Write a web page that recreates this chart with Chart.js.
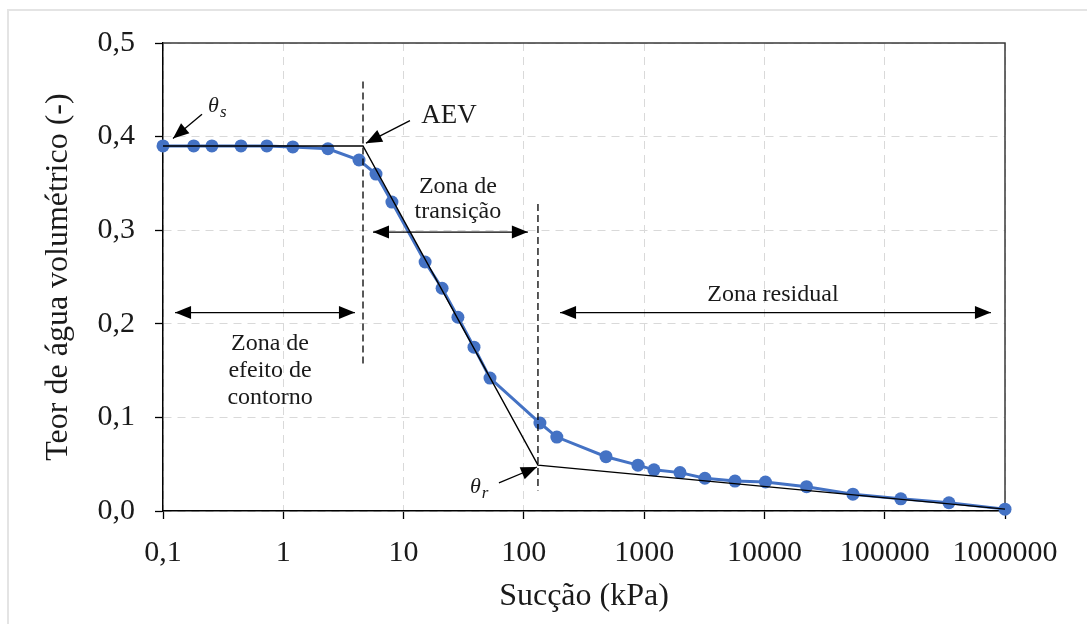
<!DOCTYPE html>
<html>
<head>
<meta charset="utf-8">
<script src="https://cdn.jsdelivr.net/npm/chart.js@4.4.0/dist/chart.umd.min.js"></script>
<style>
  html, body { margin: 0; padding: 0; background: #fff; }
  .frame {
    position: absolute; left: 7px; top: 9px; right: 0; bottom: 0;
    border-top: 2px solid #e4e4e4; border-left: 2px solid #e4e4e4;
  }
  canvas { position: absolute; left: 0; top: 0; }
</style>
</head>
<body>
<div class="frame"></div>
<canvas id="myChart" width="1087" height="624"></canvas>
<script>
// dados medidos (sucção em kPa, teor de água volumétrico)
const suction = [0.1, 0.18, 0.255, 0.445, 0.73, 1.2, 2.35, 4.26, 5.9, 8.0, 15.1, 20.9, 28.3, 38.5, 52.3,
  136, 188, 482, 888, 1207, 1986, 3200, 5690, 10200, 22400, 54400, 136000, 342000, 1000000];
const theta = [0.39, 0.39, 0.39, 0.39, 0.39, 0.389, 0.387, 0.375, 0.36, 0.33, 0.266, 0.238, 0.207, 0.175, 0.142,
  0.094, 0.079, 0.058, 0.049, 0.044, 0.041, 0.035, 0.032, 0.031, 0.026, 0.018, 0.013, 0.0088, 0.002];

// construção gráfica (retas)
const fitSuction = [0.1, 4.6, 131, 1000000];
const fitTheta = [0.39, 0.39, 0.049, 0.002];

// linhas tracejadas verticais (AEV e theta_r)
const aevX = [4.6, 4.6];
const aevY = [0.459, 0.154];
const resX = [131, 131];
const resY = [0.328, 0.022];

// eixos
const xTicks = [0.1, 1, 10, 100, 1000, 10000, 100000, 1000000];
const yTicks = [0, 0.1, 0.2, 0.3, 0.4, 0.5];

// setas: [x1, y1, x2, y2, duas pontas?]
const arrows = [
  [0.126, 0.212, 3.94, 0.212, true],
  [5.57, 0.298, 108, 0.298, true],
  [200, 0.212, 764000, 0.212, true],
  [0.211, 0.424, 0.121, 0.398, false],
  [11.3, 0.417, 4.87, 0.393, false],
  [62.1, 0.030, 128.5, 0.047, false],
];

// textos: [texto, x, y(base), tamanho]
const notes = [
  ["AEV", 23.9, 0.4145, 27],
  ["Zona de", 28.3, 0.3397, 24],
  ["transição", 28.3, 0.313, 24],
  ["Zona de", 0.776, 0.172, 24],
  ["efeito de", 0.776, 0.143, 24],
  ["contorno", 0.776, 0.1143, 24],
  ["Zona residual", 11770, 0.2244, 24],
];
// θ com subscrito: [sub, x(esq), y(base)]
const thetas = [
  ["s", 0.237, 0.426],
  ["r", 35.6, 0.019],
];

const SERIF = "'Liberation Serif', 'Times New Roman', serif";
const BLUE = "#4472C4";
const INK = "#1a1a1a";

const toXY = (xs, ys) => xs.map((v, i) => ({ x: v, y: ys[i] }));

const drawArrowHead = (ctx, fx, fy, tx, ty) => {
  const ang = Math.atan2(ty - fy, tx - fx);
  const L = 16, W = 6.5;
  const bx = tx - L * Math.cos(ang), by = ty - L * Math.sin(ang);
  ctx.beginPath();
  ctx.moveTo(tx, ty);
  ctx.lineTo(bx + W * Math.sin(ang), by - W * Math.cos(ang));
  ctx.lineTo(bx - W * Math.sin(ang), by + W * Math.cos(ang));
  ctx.closePath();
  ctx.fill();
};

const extras = {
  id: "extras",
  beforeDatasetsDraw(chart) {
    const { ctx, chartArea: a } = chart;
    ctx.save();
    ctx.strokeStyle = "#3a3a3a";
    ctx.lineWidth = 1.5;
    ctx.beginPath();
    ctx.moveTo(a.left, a.top);
    ctx.lineTo(a.right, a.top);
    ctx.lineTo(a.right, a.bottom);
    ctx.stroke();
    ctx.restore();
  },
  afterDatasetsDraw(chart) {
    const { ctx, scales: { x, y } } = chart;
    ctx.save();
    ctx.strokeStyle = "#000";
    ctx.fillStyle = "#000";
    ctx.lineWidth = 1.3;
    arrows.forEach(([x1, y1, x2, y2, both]) => {
      const px1 = x.getPixelForValue(x1), py1 = y.getPixelForValue(y1);
      const px2 = x.getPixelForValue(x2), py2 = y.getPixelForValue(y2);
      ctx.beginPath();
      ctx.moveTo(px1, py1);
      ctx.lineTo(px2, py2);
      ctx.stroke();
      drawArrowHead(ctx, px1, py1, px2, py2);
      if (both) drawArrowHead(ctx, px2, py2, px1, py1);
    });

    ctx.fillStyle = INK;
    ctx.textAlign = "center";
    ctx.textBaseline = "alphabetic";
    notes.forEach(([t, vx, vy, size]) => {
      ctx.font = size + "px " + SERIF;
      ctx.fillText(t, x.getPixelForValue(vx), y.getPixelForValue(vy));
    });

    ctx.textAlign = "left";
    thetas.forEach(([sub, vx, vy]) => {
      const px = x.getPixelForValue(vx), py = y.getPixelForValue(vy);
      ctx.font = "italic 22px " + SERIF;
      ctx.fillText("θ", px, py);
      const w = ctx.measureText("θ").width;
      ctx.font = "italic 17px " + SERIF;
      ctx.fillText(sub, px + w + 1, py + 5);
    });
    ctx.restore();
  },
};

const ctx = document.getElementById("myChart").getContext("2d");
const myChart = new Chart(ctx, {
  type: "line",
  data: {
    datasets: [
      {
        data: toXY(aevX, aevY),
        borderColor: "#000",
        borderWidth: 1.3,
        borderDash: [7, 4],
        pointRadius: 0,
        clip: false,
      },
      {
        data: toXY(resX, resY),
        borderColor: "#000",
        borderWidth: 1.3,
        borderDash: [7, 4],
        pointRadius: 0,
        clip: false,
      },
      {
        data: toXY(fitSuction, fitTheta),
        borderColor: "#000",
        borderWidth: 1.4,
        pointRadius: 0,
        tension: 0,
        clip: false,
      },
      {
        data: toXY(suction, theta),
        borderColor: BLUE,
        backgroundColor: BLUE,
        borderWidth: 3,
        pointRadius: 6.5,
        pointBorderWidth: 0,
        pointBackgroundColor: BLUE,
        tension: 0,
        clip: false,
      },
    ],
  },
  options: {
    responsive: false,
    animation: false,
    devicePixelRatio: 1,
    layout: { padding: { top: 43, right: 82, bottom: 0, left: 0 } },
    plugins: {
      legend: { display: false },
      tooltip: { enabled: false },
    },
    scales: {
      x: {
        type: "logarithmic",
        min: 0.1,
        max: 1000000,
        afterBuildTicks: (s) => { s.ticks = xTicks.map((v) => ({ value: v })); },
        afterFit: (s) => { s.height = 113; },
        ticks: {
          autoSkip: false,
          maxRotation: 0,
          padding: 16,
          color: INK,
          font: { family: SERIF, size: 30 },
          callback: (v) => (v < 1 ? String(v).replace(".", ",") : String(v)),
        },
        grid: {
          color: "#d9d9d9",
          lineWidth: 1,
          tickColor: "#000",
          tickLength: 8,
          tickWidth: 1.3,
          tickBorderDash: [],
        },
        border: { color: "#000", width: 1.5, dash: [8, 6] },
        title: {
          display: true,
          text: "Sucção (kPa)",
          color: INK,
          font: { family: SERIF, size: 32 },
          padding: { top: 0, bottom: 8 },
        },
      },
      y: {
        min: 0,
        max: 0.5,
        afterBuildTicks: (s) => { s.ticks = yTicks.map((v) => ({ value: v })); },
        afterFit: (s) => { s.width = 163; },
        ticks: {
          padding: 20,
          color: INK,
          font: { family: SERIF, size: 30 },
          callback: (v) => v.toFixed(1).replace(".", ","),
        },
        grid: {
          color: "#d9d9d9",
          lineWidth: 1,
          tickColor: "#000",
          tickLength: 8,
          tickWidth: 1.3,
          tickBorderDash: [],
        },
        border: { color: "#000", width: 1.5, dash: [8, 6] },
        title: {
          display: true,
          text: "Teor de água volumétrico (-)",
          color: INK,
          font: { family: SERIF, size: 32 },
          padding: { top: 39, bottom: 0 },
        },
      },
    },
  },
  plugins: [extras],
});
</script>
</body>
</html>
